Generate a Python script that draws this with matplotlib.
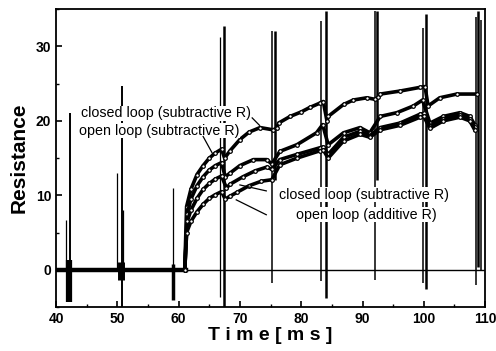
import numpy as np
import matplotlib.pyplot as plt

plt.rcParams['font.family'] = ['Liberation Sans', 'DejaVu Sans']

# curves (ms / resistance)
a_x = [61.0, 61.3, 62.0, 63.0, 64.0, 65.0, 66.0, 67.0,
       67.5, 68.4, 70.0, 71.5, 73.3, 75.4,
       76.0, 76.3, 78.2, 80.0, 81.4, 83.1, 83.6,
       84.2, 84.4, 86.9, 88.5, 90.7, 92.0,
       92.6, 92.9, 96.1, 99.4, 100.2,
       100.7, 102.6, 105.4, 108.6]
a_y = [0.0, 8.5, 10.8, 12.8, 14.0, 15.0, 15.7, 16.2,
       15.0, 16.0, 17.5, 18.5, 19.1, 18.8,
       19.0, 19.7, 20.6, 21.2, 21.8, 22.4, 22.6,
       20.0, 20.6, 22.2, 22.8, 23.1, 22.9,
       23.2, 23.6, 24.0, 24.5, 24.6,
       22.0, 23.1, 23.6, 23.6]

b_x = [61.0, 61.4, 62.0, 63.0, 64.0, 65.0, 66.0, 67.0,
       67.6, 68.4, 70.0, 72.2, 74.4, 75.2,
       76.5, 79.3, 82.5, 83.5,
       84.4, 86.9, 89.6, 91.2,
       92.9, 95.6, 98.3, 99.8,
       101.0, 103.2, 105.9, 107.5, 108.3]
b_y = [0.0, 7.5, 9.5, 11.3, 12.5, 13.4, 14.0, 14.4,
       12.5, 13.0, 14.0, 14.8, 14.8, 14.2,
       15.9, 16.8, 18.4, 19.5,
       16.8, 18.4, 19.1, 18.4,
       20.6, 21.1, 22.0, 22.8,
       19.7, 20.6, 21.1, 20.6, 19.5]

c_x = [61.0, 61.4, 62.0, 63.0, 64.0, 65.0, 66.0, 67.0,
       67.8, 68.4, 70.5, 72.5, 74.4, 75.2,
       76.5, 79.3, 83.1, 83.6,
       84.4, 86.9, 89.6, 91.2,
       92.9, 96.1, 99.4, 100.0,
       101.0, 103.2, 105.9, 107.5, 108.3]
c_y = [0.0, 6.5, 8.0, 9.6, 10.8, 11.6, 12.2, 12.6,
       11.0, 11.5, 12.5, 13.3, 13.8, 13.5,
       14.8, 15.5, 16.4, 16.5,
       15.5, 17.8, 18.6, 18.0,
       19.1, 19.7, 20.9, 21.0,
       19.3, 20.3, 20.8, 20.3, 19.2]

d_x = [61.0, 61.3, 62.0, 63.0, 64.0, 65.0, 66.0, 67.0,
       67.6, 68.4, 69.5, 71.5, 73.5, 75.2,
       76.5, 79.3, 83.1, 83.6,
       84.4, 86.9, 89.6, 91.2,
       92.9, 96.1, 99.4, 100.0,
       101.0, 103.2, 105.9, 107.5, 108.3]
d_y = [0.0, 5.0, 6.5, 7.8, 8.8, 9.6, 10.1, 10.5,
       9.5, 9.9, 10.4, 11.3, 11.9, 12.1,
       14.1, 15.0, 16.0, 16.1,
       15.0, 17.3, 18.2, 17.8,
       18.8, 19.4, 20.5, 20.6,
       19.0, 20.0, 20.5, 20.0, 18.8]

# stimulus spikes: position, low end, high end, width
spike_x = [41.7, 42.3, 50.0, 50.7, 51.0, 59.0, 66.8, 67.4, 75.3, 75.8,
           83.3, 84.0, 92.0, 92.4, 99.8, 100.3, 108.5, 108.9, 109.3]
spike_lo = [0, 0, 0, -5, 0, 0, -3.6, -5, -1.8, 12,
            -1.5, -3.8, -1.3, 12, -1.8, -2.6, -2.0, 0.4, 0]
spike_hi = [6.7, 21.0, 13.0, 24.7, 8.1, 11.0, 31.2, 32.8, 32.1, 32.1,
            33.4, 34.8, 34.8, 34.8, 32.5, 34.3, 34.0, 34.7, 33.6]
spike_w = [0.9, 1.4, 0.9, 1.4, 0.9, 0.9, 0.9, 1.8, 1.1, 1.8,
           1.1, 1.8, 1.1, 1.8, 1.1, 1.8, 1.1, 1.8, 1.1]

# artefact bursts on the baseline
burst_x = [42.1, 50.6, 59.1]
burst_lo = [-4.3, -1.3, -4.0]
burst_hi = [1.3, 1.1, 0.8]
burst_w = [4.5, 5.0, 2.5]

fig = plt.figure(figsize=(4.96, 3.51), dpi=100)
ax = fig.add_axes([0.113, 0.125, 0.865, 0.849])

ax.axhline(0, color='black', lw=1.0)
ax.plot([40, 61.2], [0, 0], color='black', lw=3.2)
ax.vlines(burst_x, burst_lo, burst_hi, color='black', lw=burst_w)
ax.vlines(spike_x, spike_lo, spike_hi, color='black', lw=spike_w)

for cx, cy in [(a_x, a_y), (b_x, b_y), (c_x, c_y), (d_x, d_y)]:
    ax.plot(cx, cy, color='black', lw=2.6, marker='o', ms=2.6,
            mfc='white', mec='black', mew=0.9)

box = dict(facecolor='white', edgecolor='none', pad=0.5)
ax.text(44.0, 21.0, 'closed loop (subtractive R)', fontsize=10.3, va='center',
        bbox=box, zorder=5)
ax.text(43.7, 18.7, 'open loop (subtractive R)', fontsize=10.3, va='center',
        bbox=box, zorder=5)
ax.text(90.2, 10.1, 'closed loop (subtractive R)', fontsize=10.3, ha='center',
        va='center', bbox=box, zorder=5)
ax.text(90.6, 7.4, 'open loop (additive R)', fontsize=10.3, ha='center',
        va='center', bbox=box, zorder=5)

ax.plot([72.0, 73.2], [20.4, 19.4], color='black', lw=0.9, zorder=6)
ax.plot([64.0, 65.6], [17.9, 15.5], color='black', lw=0.9, zorder=6)
ax.plot([74.3, 70.0], [10.6, 11.4], color='black', lw=0.9, zorder=6)
ax.plot([74.3, 69.4], [7.4, 9.4], color='black', lw=0.9, zorder=6)

ax.set_xlim(40, 110)
ax.set_ylim(-5, 35)
ax.set_xticks([40, 50, 60, 70, 80, 90, 100, 110])
ax.set_xticks(np.arange(45, 110, 10), minor=True)
ax.set_yticks([0, 10, 20, 30])
ax.set_yticks([-5, 5, 15, 25, 35], minor=True)
ax.tick_params(direction='in', length=4, width=1.2, labelsize=10)
ax.tick_params(which='minor', direction='in', length=2.5, width=1.0)
for lab in ax.get_xticklabels() + ax.get_yticklabels():
    lab.set_fontweight('bold')
for s in ax.spines.values():
    s.set_linewidth(1.3)

ax.set_xlabel('T i m e [ m s ]', fontsize=14, fontweight='bold', labelpad=1)
ax.set_ylabel('Resistance', fontsize=15, fontweight='bold', labelpad=5)

fig.savefig('out.png', dpi=100)
